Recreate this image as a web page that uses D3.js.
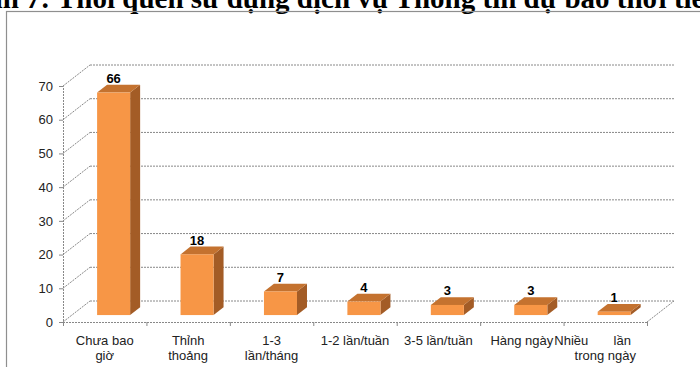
<!DOCTYPE html>
<html>
<head>
<meta charset="utf-8">
<script src="https://cdn.jsdelivr.net/npm/d3@7"></script>
<style>
  html, body { margin: 0; padding: 0; background: #fff; }
  svg { display: block; }
</style>
</head>
<body>
<svg id="chart" width="700" height="367"></svg>
<script>
// Survey results: how often respondents use the weather forecast service
const title = "Hình 7: Thói quen sử dụng dịch vụ Thông tin dự báo thời tiết";
const NB = "\u00A0";
const categories = [
  ["Chưa bao", "giờ"],
  ["Thỉnh", "thoảng"],
  ["1-3", "lần/tháng"],
  ["1-2 lần/tuần"],
  ["3-5 lần/tuần"],
  ["Hàng ngày"],
  ["Nhiều" + NB.repeat(7) + "lần" + NB.repeat(7), "trong ngày"]
];
const values = [66, 18, 7, 4, 3, 3, 1];
const yTicks = [0, 10, 20, 30, 40, 50, 60, 70];

const svg = d3.select("#chart");

// 3D projection offsets: full floor depth
const DX = 27, DY = 21;
// bars occupy this slice of the depth
const z0 = 0.33, z1 = 0.70;

const x = d3.scaleBand().domain(d3.range(categories.length)).range([63, 647]);
const xl = d3.scaleLinear().domain([0, categories.length]).range([63, 647]);
const y = d3.scaleLinear().domain([0, 70]).range([322, 86]);
const barW = x.bandwidth() * 0.396;

// title (runs past the top and side edges)
svg.append("text")
  .attr("x", -44).attr("y", 8)
  .attr("font-family", "'Liberation Serif', 'Times New Roman', serif")
  .attr("font-weight", "bold")
  .attr("font-size", 29)
  .attr("fill", "#000")
  .text(title);

// chart frame
svg.append("rect")
  .attr("x", 6.5).attr("y", 11.5)
  .attr("width", 720).attr("height", 400)
  .attr("fill", "none")
  .attr("stroke", "#8f8f8f")
  .attr("stroke-width", 1.2);

const grid = svg.append("g")
  .attr("stroke", "#888")
  .attr("stroke-width", 1)
  .attr("stroke-dasharray", "2,1")
  .attr("fill", "none");

// back wall gridlines
grid.selectAll(".back").data(yTicks).join("line")
  .attr("x1", xl(0) + DX).attr("x2", xl(categories.length) + DX)
  .attr("y1", d => y(d) - DY).attr("y2", d => y(d) - DY);

// depth lines on the left side wall
grid.selectAll(".side").data(yTicks).join("line")
  .attr("x1", xl(0)).attr("x2", xl(0) + DX)
  .attr("y1", d => y(d)).attr("y2", d => y(d) - DY);

// floor right edge
grid.append("line")
  .attr("x1", xl(categories.length)).attr("y1", y(0))
  .attr("x2", xl(categories.length) + DX).attr("y2", y(0) - DY);

// y axis on the front edge
const yAxis = svg.append("g")
  .attr("transform", `translate(${xl(0)},0)`)
  .call(d3.axisLeft(y).tickValues(yTicks).tickSize(4).tickPadding(6));
yAxis.select(".domain").attr("stroke", "#888").attr("stroke-dasharray", "2,1");
yAxis.selectAll(".tick line").attr("stroke", "#888");
yAxis.selectAll(".tick text")
  .attr("font-family", "'Liberation Sans', Arial, sans-serif")
  .attr("font-size", 13)
  .attr("fill", "#222");

// x axis front edge with ticks at category boundaries
const xAxis = svg.append("g")
  .attr("transform", `translate(0,${y(0)})`)
  .call(d3.axisBottom(xl).tickValues(d3.range(categories.length + 1)).tickSize(4).tickFormat(""));
xAxis.select(".domain").attr("stroke", "#888").attr("stroke-dasharray", "2,1");
xAxis.selectAll(".tick line").attr("stroke", "#888");

// category labels
svg.append("g")
  .attr("font-family", "'Liberation Sans', Arial, sans-serif")
  .attr("font-size", 13)
  .attr("fill", "#222")
  .attr("text-anchor", "middle")
  .selectAll("text").data(categories).join("text")
  .attr("x", (d, i) => x(i) + x.bandwidth() / 2)
  .attr("y", y(0) + 23)
  .selectAll("tspan").data((d, i) => d.map(t => ({ t, i }))).join("tspan")
  .attr("x", d => x(d.i) + x.bandwidth() / 2)
  .attr("dy", (d, j) => j === 0 ? 0 : 15)
  .text(d => d.t);

// 3D bars
const ox0 = z0 * DX, oy0 = z0 * DY, ox1 = z1 * DX, oy1 = z1 * DY;
const bars = svg.append("g").selectAll("g").data(values).join("g");
const pts = a => a.map(p => p.join(",")).join(" ");
const bx0 = i => x(i) + (x.bandwidth() - barW) / 2;

bars.append("polygon") // side face
  .attr("fill", "#A35C26")
  .attr("points", (v, i) => {
    const xr = bx0(i) + barW;
    return pts([[xr + ox0, y(v) - oy0], [xr + ox1, y(v) - oy1], [xr + ox1, y(0) - oy1], [xr + ox0, y(0) - oy0]]);
  });
bars.append("polygon") // top face
  .attr("fill", "#C4722F")
  .attr("points", (v, i) => {
    const xa = bx0(i), xb = bx0(i) + barW;
    return pts([[xa + ox0, y(v) - oy0], [xb + ox0, y(v) - oy0], [xb + ox1, y(v) - oy1], [xa + ox1, y(v) - oy1]]);
  });
bars.append("rect") // front face
  .attr("fill", "#F79646")
  .attr("x", (v, i) => bx0(i) + ox0)
  .attr("y", v => y(v) - oy0)
  .attr("width", barW)
  .attr("height", v => y(0) - y(v));

// value labels
svg.append("g")
  .attr("font-family", "'Liberation Sans', Arial, sans-serif")
  .attr("font-size", 13)
  .attr("font-weight", "bold")
  .attr("fill", "#000")
  .attr("text-anchor", "middle")
  .selectAll("text").data(values).join("text")
  .attr("x", (v, i) => bx0(i) + ox0 + barW / 2)
  .attr("y", v => y(v) - oy1 - 2)
  .text(v => v);
</script>
</body>
</html>
